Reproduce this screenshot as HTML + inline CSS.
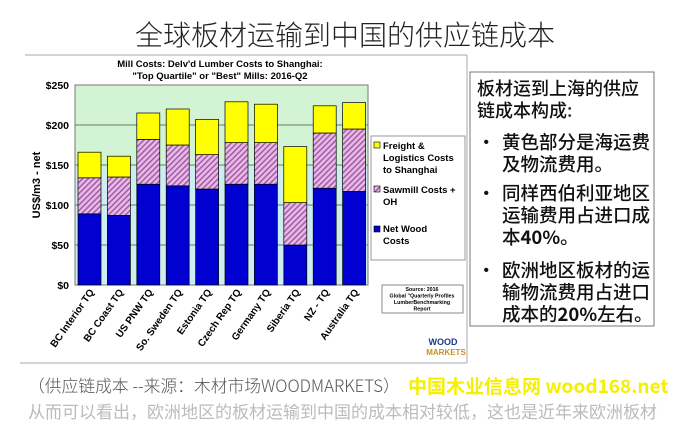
<!DOCTYPE html>
<html><head><meta charset="utf-8"><style>
body{margin:0;width:675px;height:402px;background:#fff;overflow:hidden;position:relative;font-family:"Liberation Sans","Noto Sans CJK SC",sans-serif}
.a{position:absolute}
.b{position:absolute;left:477px;font-size:18.5px;line-height:22px;color:#111;font-family:'Noto Sans CJK SC',sans-serif;font-weight:500;white-space:nowrap}
</style></head><body>
<div class="a" style="left:0;top:14px;width:690px;text-align:center;font-size:28px;color:#222;font-family:'Noto Sans CJK SC',sans-serif;font-weight:300">全球板材运输到中国的供应链成本</div>
<svg class="a" style="left:0;top:0" width="675" height="402" font-family="Liberation Sans, sans-serif">
<defs><pattern id="h" width="4" height="4" patternUnits="userSpaceOnUse" patternTransform="rotate(45)"><rect width="4" height="4" fill="#e9b7ea"/><rect width="1.4" height="4" fill="#9a5a9a"/></pattern></defs>
<line x1="25" y1="55" x2="467" y2="55" stroke="#aaa"/>
<line x1="467" y1="55" x2="467" y2="363" stroke="#aaa"/>
<line x1="20" y1="363" x2="467" y2="363" stroke="#aaa"/>
<text x="220" y="67" text-anchor="middle" font-size="9.5" font-weight="bold">Mill Costs: Delv'd Lumber Costs to Shanghai:</text>
<text x="220" y="79" text-anchor="middle" font-size="9.5" font-weight="bold">"Top Quartile" or "Best" Mills: 2016-Q2</text>
<rect x="75" y="85" width="293" height="200" fill="#d2f4d4"/>
<rect x="75" y="165" width="293" height="120" fill="#cdeef0"/>
<g stroke="#000" stroke-width="0.6">
<line x1="75" y1="125" x2="368" y2="125"/><line x1="75" y1="165" x2="368" y2="165"/><line x1="75" y1="205" x2="368" y2="205"/><line x1="75" y1="245" x2="368" y2="245"/>
</g>
<rect x="75" y="85" width="293" height="200" fill="none" stroke="#777"/>
<g font-size="10.5" font-weight="bold" text-anchor="end">
<text x="69" y="89">$250</text><text x="69" y="129">$200</text><text x="69" y="169">$150</text><text x="69" y="209">$100</text><text x="69" y="249">$50</text><text x="69" y="289">$0</text></g>
<text transform="translate(40,185) rotate(-90)" text-anchor="middle" font-size="11" font-weight="bold">US$/m3 - net</text>
<g id="bars" stroke="#000" stroke-width="0.7"></g>
<g id="labs" font-size="10" font-weight="bold"></g>
<rect x="371" y="136" width="94" height="124" fill="#fff" stroke="#999"/>
<rect x="374" y="142" width="6" height="6" fill="#ffff00" stroke="#000" stroke-width="0.6"/>
<rect x="374" y="186" width="6" height="6" fill="url(#h)" stroke="#000" stroke-width="0.6"/>
<rect x="374" y="226" width="6" height="6" fill="#0000d0" stroke="#000" stroke-width="0.6"/>
<g font-size="9.5" font-weight="bold"><text x="383" y="149">Freight &amp;</text><text x="383" y="161">Logistics Costs</text><text x="383" y="173">to Shanghai</text><text x="383" y="193">Sawmill Costs +</text><text x="383" y="205">OH</text><text x="383" y="232">Net Wood</text><text x="383" y="244">Costs</text></g>
<rect x="382" y="285" width="81" height="28" fill="#fff" stroke="#888"/>
<g font-size="5.3" text-anchor="middle" font-weight="bold"><text x="422" y="291">Source: 2016</text><text x="422" y="297.5">Global "Quarterly Profiles</text><text x="422" y="304">LumberBenchmarking</text><text x="422" y="310.5">Report</text></g>
<text x="443" y="345" font-size="9" font-weight="bold" fill="#1a3a8a" text-anchor="middle">WOOD</text>
<text x="446" y="355" font-size="8" font-weight="bold" fill="#c89020" text-anchor="middle">MARKETS</text>
<rect x="470" y="72" width="184" height="254" fill="#fff" stroke="#777"/>
</svg>
<div class="b" style="top:77px;font-size:18px">板材运到上海的供应<br>链成本构成<span style="color:#333">:</span></div>
<div class="b" style="top:131px">•</div><div class="b" style="top:131px;left:502px">黄色部分是海运费<br>及物流费用。</div>
<div class="b" style="top:182px">•</div><div class="b" style="top:182px;left:502px">同样西伯利亚地区<br>运输费用占进口成<br>本<b>40%</b>。</div>
<div class="b" style="top:259px">•</div><div class="b" style="top:259px;left:502px">欧洲地区板材的运<br>输物流费用占进口<br>成本的<b>20%</b>左右。</div>
<div class="a" style="left:28px;top:373px;font-size:16.8px;color:#555;font-family:'Noto Sans CJK SC',sans-serif;font-weight:300;white-space:nowrap">（供应链成本 --来源：木材市场WOODMARKETS）</div>
<div class="a" style="left:408px;top:372px;font-size:19px;color:#f5f000;font-family:'Noto Sans CJK SC',sans-serif;font-weight:bold;white-space:nowrap">中国木业信息网 wood168.net</div>
<div class="a" style="left:28px;top:398px;font-size:17px;color:#bbb;font-family:'Noto Sans CJK SC',sans-serif;white-space:nowrap">从而可以看出，欧洲地区的板材运输到中国的成本相对较低，这也是近年来欧洲板材</div>
<script>
var d=[["BC Interior TQ",89,134,166],["BC Coast TQ",87,135,161],["US PNW TQ",126,182,215],["So. Sweden TQ",124,175,220],["Estonia TQ",120,163,207],["Czech Rep TQ",126,178,229],["Germany TQ",126,178,226],["Siberia TQ",50,103,173],["NZ - TQ",121,190,224],["Australia TQ",117,195,228]];
var s="",l="";
function y(v){return 285-v*0.8}
d.forEach(function(r,i){var cx=89.5+i*29.4,x=cx-11.5,w=23;
s+='<rect x="'+x+'" y="'+y(r[1])+'" width="'+w+'" height="'+(r[1]*0.8)+'" fill="#0000d0"/>';
s+='<rect x="'+x+'" y="'+y(r[2])+'" width="'+w+'" height="'+((r[2]-r[1])*0.8)+'" fill="url(#h)"/>';
s+='<rect x="'+x+'" y="'+y(r[3])+'" width="'+w+'" height="'+((r[3]-r[2])*0.8)+'" fill="#ffff00"/>';
l+='<text transform="translate('+(cx+5)+',292) rotate(-55)" text-anchor="end">'+r[0]+'</text>';});
document.getElementById("bars").innerHTML=s;document.getElementById("labs").innerHTML=l;
</script>
</body></html>
